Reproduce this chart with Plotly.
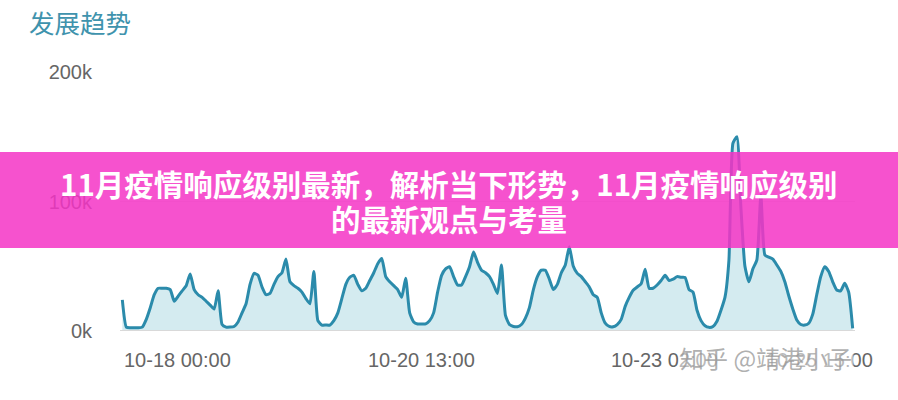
import pandas as pd
import plotly.graph_objects as go

# ---------------- data ----------------
start_time = "2023-10-18 00:00"
values_k = [
    24, 3, 2.5, 2.5, 2.5, 3, 9, 18, 28, 33,
    33, 33, 32, 23, 27, 31, 35, 44, 32, 28,
    26, 23, 20, 17, 31, 5, 3, 3, 3.5, 7,
    14, 21, 36, 44.5, 43, 34, 28, 29, 36, 42,
    45, 55.6, 38, 35, 33, 30, 25, 21, 46, 8,
    4.6, 4.6, 4.6, 8, 14, 25, 36, 41.5, 43, 36,
    31, 33, 39, 45, 52, 56, 42, 38, 35, 32,
    26, 40.7, 14, 7, 5.4, 5.4, 5.5, 8, 14, 30,
    43, 48, 49.6, 42, 35.5, 35.5, 42, 49.6, 61, 53,
    47, 45, 42, 36, 29, 51, 12, 5, 3.5, 3.3,
    5, 10, 18, 32, 42, 47, 47, 40, 32, 36,
    45, 51, 65, 50, 44.5, 42, 38, 34, 28, 26,
    14, 6, 3.5, 3.3, 5, 9, 19, 26, 31.5, 34,
    36.5, 47.6, 33, 33, 35.5, 39, 43, 39, 40, 42,
    41.5, 41.4, 32, 30, 16, 8, 4, 2.8, 3.5, 7.5,
    16, 26, 55, 145, 150, 95, 50, 38, 48, 55,
    105, 58.7, 57, 55.5, 51, 46, 38, 27, 17, 8.5,
    5, 4.6, 6, 13, 28, 42, 49.6, 46, 38, 31.7,
    31, 36.8, 30, 2,
]
x_tick_labels = ["10-18 00:00", "10-20 13:00", "10-23 02:00", "10-25 15:00"]
y_tick_values = [0, 100000, 200000]
y_tick_labels = ["0k", "100k", "200k"]
chart_title = "发展趋势"
banner_line1 = "11月疫情响应级别最新，解析当下形势，11月疫情响应级别"
banner_line2 = "的最新观点与考量"
watermark = "知乎 @靖港小子"

times = pd.date_range(start_time, periods=len(values_k), freq="h")
values = [v * 1000 for v in values_k]
tick_times = [pd.Timestamp("2023-" + t) for t in x_tick_labels]

# ---------------- layout geometry ----------------
W, H = 898, 400
L, R, T, B = 120, 43, 72, 69
pw, ph = W - L - R, H - T - B


def px_x(px):
    return (px - L) / pw


def px_y(py):
    return (H - B - py) / ph


t0 = times[0] - pd.Timedelta(minutes=35)
t1 = times[-1] + pd.Timedelta(minutes=35)

fig = go.Figure()
fig.add_trace(go.Scatter(
    x=times, y=values, mode="lines",
    line=dict(color="#2b8bab", width=3, shape="spline", smoothing=0.5),
    fill="tozeroy", fillcolor="#d4ebf0",
    hoverinfo="skip", showlegend=False,
))

fig.update_layout(
    width=W, height=H,
    margin=dict(l=L, r=R, t=T, b=B),
    paper_bgcolor="white", plot_bgcolor="white",
    font=dict(family="Liberation Sans, Arial, sans-serif", color="#666"),
    title=dict(
        text=chart_title, x=29 / W, xanchor="left", xref="container",
        y=1 - 24 / H, yanchor="middle", yref="container",
        font=dict(family="Noto Sans CJK SC", size=25.5, color="#3f93ad"),
    ),
    xaxis=dict(
        type="date", range=[t0, t1], showgrid=False, showticklabels=False,
        zeroline=False, showline=False, fixedrange=True,
    ),
    yaxis=dict(
        range=[0, 200000], tickvals=y_tick_values, ticktext=y_tick_labels,
        showgrid=True, gridcolor="#e8e8e8", gridwidth=1,
        zeroline=False, showline=False,
        tickfont=dict(size=20, color="#666"), ticklabelstandoff=27,
    ),
)

# baseline
fig.add_shape(type="line", xref="paper", yref="y", x0=0, x1=1, y0=0, y1=0,
              line=dict(color="#d9d9d9", width=2), layer="above")

# x tick labels
for i, (t, lab) in enumerate(zip(tick_times, x_tick_labels)):
    last = i == len(x_tick_labels) - 1
    fig.add_annotation(
        x=t, y=0, xref="x", yref="paper", text=lab, showarrow=False,
        xanchor="right" if last else "left", yanchor="top",
        xshift=22 if last else 0, yshift=-16,
        font=dict(size=20, color="#666", family="Liberation Sans, Arial, sans-serif"),
    )

# watermark
fig.add_annotation(
    x=px_x(678), y=px_y(357), xref="paper", yref="paper", text=watermark,
    showarrow=False, xanchor="left", yanchor="middle",
    bgcolor="rgba(255,255,255,0.55)",
    font=dict(size=24, color="rgba(150,150,150,0.75)", family="Noto Sans CJK SC"),
)

# pink banner
fig.add_shape(type="rect", xref="paper", yref="paper",
              x0=px_x(0), x1=px_x(W), y0=px_y(248), y1=px_y(152),
              fillcolor="rgba(244,52,197,0.85)", line=dict(width=0), layer="above")

for txt, yc in [(banner_line1, 183), (banner_line2, 218)]:
    fig.add_annotation(
        x=px_x(449), y=px_y(yc), xref="paper", yref="paper", text="<b>" + txt + "</b>",
        showarrow=False, xanchor="center", yanchor="middle",
        font=dict(size=29.5, color="white", family="Noto Sans CJK SC"),
    )

fig.write_html("out.html", config={"displayModeBar": False},
               post_script="document.body.style.margin='0';")
